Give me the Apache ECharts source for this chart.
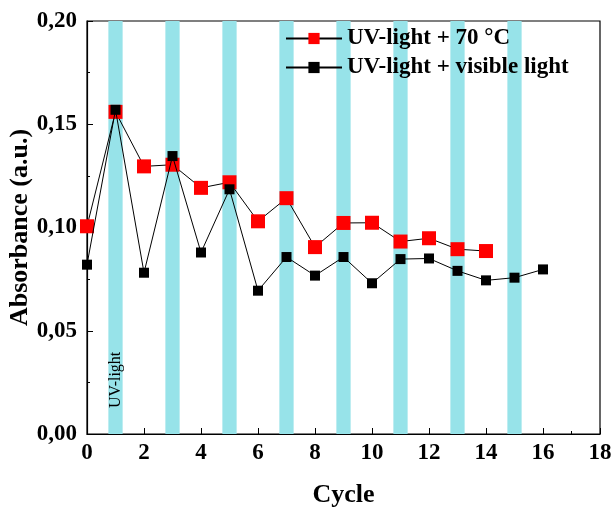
<!DOCTYPE html>
<html>
<head>
<meta charset="utf-8">
<script src="https://cdn.jsdelivr.net/npm/echarts@6/dist/echarts.min.js"></script>
<style>
  html, body { margin: 0; padding: 0; background: #fff; }
  #chart { width: 613px; height: 508px; }
</style>
</head>
<body>
<div id="chart"></div>
<script>
  // cycle numbers
  var cycles = [0, 1, 2, 3, 4, 5, 6, 7, 8, 9, 10, 11, 12, 13, 14, 15, 16];
  // UV-light + 70 °C (red)
  var heatVals = [0.1006, 0.156, 0.1296, 0.1304, 0.1192, 0.1219, 0.103, 0.1142,
    0.0905, 0.1022, 0.1023, 0.0932, 0.0948, 0.0895, 0.0886];
  // UV-light + visible light (black)
  var visVals = [0.082, 0.157, 0.0781, 0.1346, 0.0879, 0.1185, 0.0694, 0.0857,
    0.0767, 0.0857, 0.073, 0.0847, 0.085, 0.079, 0.0744, 0.0757, 0.0797];
  // cycles with UV irradiation (cyan bands)
  var uvCycles = [1, 3, 5, 7, 9, 11, 13, 15];
  var seriesNames = ['UV-light + 70 °C', 'UV-light + visible light'];

  var font = 'Liberation Serif';
  var bandHalf = 0.25;

  function pairs(vals) {
    return vals.map(function (v, i) { return [cycles[i], v]; });
  }

  var bands = uvCycles.map(function (c, i) {
    var a = { xAxis: c - bandHalf };
    if (i === 0) {
      a.label = {
        show: true,
        formatter: 'UV-light',
        position: 'insideBottom',
        distance: 26,
        rotate: 90,
        align: 'left',
        verticalAlign: 'middle',
        color: '#000',
        fontFamily: font,
        fontSize: 16
      };
    }
    return [a, { xAxis: c + bandHalf }];
  });

  var chart = echarts.init(document.getElementById('chart'));
  chart.setOption({
    animation: false,
    grid: {
      left: 87, right: 13, top: 21, bottom: 74,
      outerBoundsMode: 'none',
      containLabel: false,
      show: true, borderColor: '#000', borderWidth: 1.2, backgroundColor: 'transparent'
    },
    legend: {
      data: seriesNames,
      orient: 'vertical',
      left: 285,
      top: 27,
      padding: 0,
      itemWidth: 56,
      itemHeight: 14,
      itemGap: 6,
      textStyle: { fontFamily: font, fontSize: 23, fontWeight: 'bold', color: '#000' }
    },
    xAxis: {
      type: 'value',
      min: 0, max: 18, interval: 2,
      name: 'Cycle',
      nameLocation: 'middle',
      nameGap: 48,
      nameMoveOverlap: false,
      nameTextStyle: { fontFamily: font, fontSize: 26, fontWeight: 'bold', color: '#000' },
      axisLine: { lineStyle: { color: '#000', width: 1.2 } },
      axisTick: { inside: true, length: 6, lineStyle: { color: '#000' } },
      minorTick: { show: true, splitNumber: 2, length: 3, lineStyle: { color: '#000' } },
      splitLine: { show: false },
      axisLabel: { margin: 8, fontFamily: font, fontSize: 23, fontWeight: 'bold', color: '#000' }
    },
    yAxis: {
      type: 'value',
      min: 0, max: 0.2, interval: 0.05,
      name: 'Absorbance (a.u.)',
      nameLocation: 'middle',
      nameGap: 54,
      nameMoveOverlap: false,
      nameTextStyle: { fontFamily: font, fontSize: 26, fontWeight: 'bold', color: '#000' },
      axisLine: { show: true, lineStyle: { color: '#000', width: 1.2 } },
      axisTick: { show: true, inside: true, length: 6, lineStyle: { color: '#000' } },
      minorTick: { show: true, splitNumber: 2, length: 3, lineStyle: { color: '#000' } },
      splitLine: { show: false },
      axisLabel: {
        margin: 10, fontFamily: font, fontSize: 23, fontWeight: 'bold', color: '#000',
        formatter: function (v) { return v.toFixed(2).replace('.', ','); }
      }
    },
    series: [
      {
        name: 'bands',
        type: 'line',
        data: [],
        z: 1,
        markArea: {
          silent: true,
          itemStyle: { color: '#97e3e9' },
          data: bands
        }
      },
      {
        name: seriesNames[0],
        type: 'line',
        z: 3,
        data: pairs(heatVals),
        symbol: 'rect',
        symbolSize: 14,
        itemStyle: { color: '#ff0000' },
        lineStyle: { color: '#000', width: 1 }
      },
      {
        name: seriesNames[1],
        type: 'line',
        z: 4,
        data: pairs(visVals),
        symbol: 'rect',
        symbolSize: 10,
        itemStyle: { color: '#000' },
        lineStyle: { color: '#000', width: 1 }
      }
    ]
  });
</script>
</body>
</html>
